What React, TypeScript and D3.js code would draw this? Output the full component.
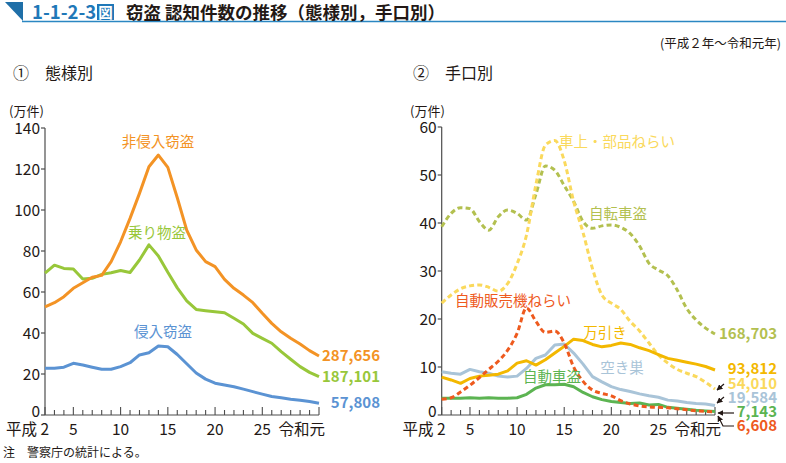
import React from "react";
import * as d3 from "d3";

const yearLabels = ["平成2","3","4","5","6","7","8","9","10","11","12","13","14","15","16","17","18","19","20","21","22","23","24","25","26","27","28","29","30","令和元"];
const xTickYears = ["平成2","5","10","15","20","25","令和元"];

// left panel (万件)
const nonIntrusion = [52.8,54.8,57.7,61.8,64.5,67.2,68.1,74.8,84.5,95.9,108.1,121.1,126.8,120.8,106.0,90.2,80.5,74.8,72.4,66.2,61.8,58.5,54.8,49.6,44.7,40.6,37.4,34.6,31.4,28.77];
const vehicle = [69.2,73.1,71.5,71.2,66.3,66.7,68.6,69.4,70.5,69.5,75.6,83.0,77.6,69.6,62.0,55.7,51.5,50.9,50.4,49.9,47.2,44.4,39.8,37.4,35.0,30.9,27.2,23.6,20.8,18.71];
const intrusion = [22.8,22.8,23.3,25.2,24.4,23.3,22.3,22.3,23.6,25.5,29.3,30.4,33.7,33.3,29.5,25.0,20.5,17.5,15.5,14.6,13.8,12.6,11.4,10.2,9.0,8.4,7.7,7.2,6.6,5.78];

// right panel (万件)
const bicycle = [39.2,42.0,43.2,43.0,40.3,38.5,41.3,42.7,42.0,40.6,46.0,51.9,51.0,47.8,44.5,40.3,38.9,39.4,39.6,39.1,37.8,35.2,31.6,30.2,29.0,26.0,22.2,19.8,18.1,16.87];
const carParts = [23.3,25.0,26.3,26.9,27.1,26.6,25.8,27.4,31.5,37.5,48.0,56.2,57.2,53.0,44.5,38.0,30.5,25.0,23.3,22.0,19.5,17.5,15.0,12.5,10.8,9.5,8.7,8.0,6.8,5.40];
const vending = [3.3,3.6,4.8,6.2,7.8,9.5,11.2,13.5,17.0,22.3,19.5,17.2,17.5,15.0,10.0,7.0,5.2,4.5,4.0,3.0,2.3,1.9,1.7,1.6,1.5,1.3,1.1,0.9,0.75,0.66];
const shoplift = [7.9,7.3,6.6,7.6,8.1,8.3,8.5,9.2,10.8,11.3,10.4,11.5,12.9,14.3,15.8,15.5,14.7,14.2,14.5,15.0,14.7,14.0,13.4,12.6,11.8,11.4,11.0,10.6,10.1,9.38];
const akisu = [9.0,8.7,8.5,9.5,9.0,8.7,8.1,7.9,8.1,9.7,11.8,12.5,14.6,14.8,12.9,10.6,8.0,6.9,5.9,5.3,4.9,4.4,4.0,3.7,3.1,2.9,2.6,2.4,2.3,1.96];
const autoTheft = [3.5,3.5,3.5,3.6,3.5,3.6,3.5,3.5,3.6,4.3,5.6,6.3,6.3,6.4,5.9,4.7,3.8,3.2,2.8,2.6,2.4,2.5,2.1,2.2,1.6,1.4,1.2,1.0,0.86,0.71];

const leftYTicks = [0,20,40,60,80,100,120,140];
const rightYTicks = [0,10,20,30,40,50,60];

const FONT = "'Noto Sans CJK JP', 'Noto Sans', sans-serif";
const AXIS = "#4d4d4d";
const TXT = "#231815";

type Series = { name: string; values: number[]; color: string; dashed?: boolean; width?: number };

function Panel(props: {
  x0: number; x1: number; y0: number; y1: number; max: number; ticks: number[];
  series: Series[];
}) {
  const { x0, x1, y0, y1, max, ticks, series } = props;
  const x = d3.scalePoint<string>().domain(yearLabels).range([x0, x1]);
  const y = d3.scaleLinear().domain([0, max]).range([y0, y1]);
  return (
    <g>
      <line x1={x0} x2={x0} y1={y(max)} y2={y0} stroke={AXIS} strokeWidth={1.2} />
      <line x1={x0} x2={x1} y1={y0} y2={y0} stroke={AXIS} strokeWidth={1.2} />
      {ticks.map((t) => (
        <g key={t}>
          <line x1={x0 - 4} x2={x0} y1={y(t)} y2={y(t)} stroke={AXIS} strokeWidth={1.2} />
          <text x={x0 - 5} y={y(t) - (t === 0 ? 4 : 0)} dy="0.36em" textAnchor="end" fontSize={15.5} fill={TXT} fontFamily={FONT}>{t}</text>
        </g>
      ))}
      {yearLabels.map((yl) => {
        const tall = xTickYears.includes(yl);
        return <line key={yl} x1={x(yl)!} x2={x(yl)!} y1={y0} y2={y0 - (tall ? 8 : 5)} stroke={AXIS} strokeWidth={1.1} />;
      })}
      {xTickYears.map((yl) => {
        let anchor: "middle" | "end" = "middle";
        let dx = 0;
        if (yl === "平成2") { anchor = "end"; dx = 4; }
        if (yl === "令和元") { anchor = "end"; dx = 6; }
        const label = yl === "平成2" ? "平成 2" : yl;
        return (
          <text key={yl} x={x(yl)! + dx} y={y0 + 20} textAnchor={anchor} fontSize={15.5} fill={TXT} fontFamily={FONT}>{label}</text>
        );
      })}
      {series.map((s) => {
        const line = d3.line<number>()
          .x((_, i) => x(yearLabels[i])!)
          .y((v) => y(v))
          .curve(s.dashed ? d3.curveMonotoneX : d3.curveLinear);
        return (
          <path key={s.name} d={line(s.values) || ""} fill="none" stroke={s.color}
            strokeWidth={s.width ?? 3} strokeDasharray={s.dashed ? "5 3.2" : undefined}
            strokeLinejoin="round" />
        );
      })}
    </g>
  );
}

export default function App() {
  const ORANGE = "#f39325";
  const LGREEN = "#98c73a";
  const BLUE = "#5b93d3";
  const OLIVE = "#b3c050";
  const LYELLOW = "#fad95c";
  const RED = "#ee5a1e";
  const GOLD = "#f3b800";
  const LBLUE = "#a9c4d8";
  const GREEN = "#5cb452";

  const leftSeries: Series[] = [
    { name: "乗り物盗", values: vehicle, color: LGREEN },
    { name: "侵入窃盗", values: intrusion, color: BLUE },
    { name: "非侵入窃盗", values: nonIntrusion, color: ORANGE },
  ];
  const rightSeries: Series[] = [
    { name: "自転車盗", values: bicycle, color: OLIVE, dashed: true },
    { name: "車上・部品ねらい", values: carParts, color: LYELLOW, dashed: true },
    { name: "空き巣", values: akisu, color: LBLUE },
    { name: "万引き", values: shoplift, color: GOLD },
    { name: "自動車盗", values: autoTheft, color: GREEN },
    { name: "自動販売機ねらい", values: vending, color: RED, dashed: true },
  ];

  const lab = (x: number, y: number, t: string, c: string, size = 14.5, anchor: "start" | "middle" | "end" = "middle", weight = 400) => (
    <text x={x} y={y} dy="0.36em" textAnchor={anchor} fontSize={size} fill={c} fontFamily={FONT} fontWeight={weight}>{t}</text>
  );

  return (
    <svg width={786} height={463} viewBox="0 0 786 463" style={{ position: "absolute", left: 0, top: 0, background: "#fff" }}>
      <defs>
        <marker id="ah" viewBox="0 0 10 10" refX="9" refY="5" markerWidth="5" markerHeight="5" orient="auto">
          <path d="M0,0 L10,5 L0,10 z" fill="#231815" />
        </marker>
      </defs>
      {/* title bar */}
      <path d="M5,2 L23,2 L23,21 Z" fill="#1f6fa8" />
      <line x1={22} x2={786} y1={21.5} y2={21.5} stroke="#2b87c2" strokeWidth={1.6} />
      <text x={32} y={19} fontSize={18.5} fontWeight={700} fill="#1f78b8" fontFamily={FONT}>1-1-2-3</text>
      <rect x={97} y={4} width={17} height={16} fill="#1f78b8" />
      <text x={105.5} y={17.5} textAnchor="middle" fontSize={14.5} fontWeight={700} fill="#fff" fontFamily={FONT}>図</text>
      <text x={126} y={19} fontSize={17.5} fontWeight={700} fill={TXT} fontFamily={FONT}>窃盗 認知件数の推移（態様別，手口別）</text>
      <text x={781} y={48} textAnchor="end" fontSize={12.5} fill={TXT} fontFamily={FONT}>(平成２年～令和元年)</text>

      {/* panel titles */}
      <text x={13} y={79} fontSize={16} fill={TXT} fontFamily={FONT}>①</text>
      <text x={45} y={79} fontSize={16} fill={TXT} fontFamily={FONT}>態様別</text>
      <text x={413} y={79} fontSize={16} fill={TXT} fontFamily={FONT}>②</text>
      <text x={445} y={79} fontSize={16} fill={TXT} fontFamily={FONT}>手口別</text>

      <text x={9} y={116} fontSize={13} fill={TXT} fontFamily={FONT}>(万件)</text>
      <text x={410} y={116} fontSize={13} fill={TXT} fontFamily={FONT}>(万件)</text>

      <Panel x0={45} x1={319} y0={415} y1={128} max={140} ticks={leftYTicks} series={leftSeries} />
      <Panel x0={441.7} x1={715} y0={415} y1={127} max={60} ticks={rightYTicks} series={rightSeries} />

      {/* left labels */}
      {lab(158, 142, "非侵入窃盗", ORANGE)}
      {lab(157, 233, "乗り物盗", LGREEN)}
      {lab(163, 332, "侵入窃盗", BLUE)}
      {lab(380, 356, "287,656", ORANGE, 15, "end", 700)}
      {lab(380, 377, "187,101", LGREEN, 15, "end", 700)}
      {lab(380, 403, "57,808", BLUE, 15, "end", 700)}

      {/* right labels */}
      {lab(617, 142, "車上・部品ねらい", LYELLOW)}
      {lab(618, 214, "自転車盗", OLIVE)}
      {lab(513, 301, "自動販売機ねらい", RED)}
      {lab(605, 333, "万引き", GOLD)}
      {lab(622, 368, "空き巣", LBLUE)}
      {lab(552, 377, "自動車盗", GREEN)}

      {lab(777, 334, "168,703", OLIVE, 15, "end", 700)}
      {lab(777, 369, "93,812", GOLD, 15, "end", 700)}
      {lab(777, 384, "54,010", LYELLOW, 15, "end", 700)}
      {lab(777, 398, "19,584", LBLUE, 15, "end", 700)}
      {lab(777, 412, "7,143", GREEN, 15, "end", 700)}
      {lab(777, 426, "6,608", RED, 15, "end", 700)}

      {/* pointer arrows */}
      <line x1={724} y1={384} x2={717} y2={390} stroke="#231815" strokeWidth={1.2} markerEnd="url(#ah)" />
      <line x1={724} y1={397} x2={717} y2={403} stroke="#231815" strokeWidth={1.2} markerEnd="url(#ah)" />
      <line x1={734} y1={413} x2={718} y2={413} stroke="#231815" strokeWidth={1.2} markerEnd="url(#ah)" />
      <polyline points="734,426 723,426 718,416" fill="none" stroke="#231815" strokeWidth={1.2} markerEnd="url(#ah)" />

      <text x={3} y={457} fontSize={12} fill={TXT} fontFamily={FONT}>注　警察庁の統計による。</text>
    </svg>
  );
}
